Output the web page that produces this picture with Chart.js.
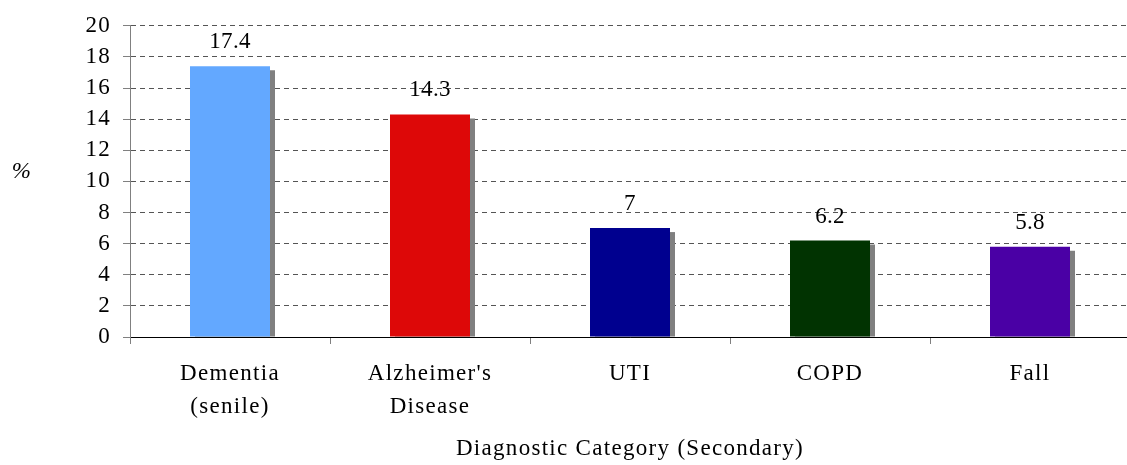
<!DOCTYPE html>
<html>
<head>
<meta charset="utf-8">
<script src="https://cdn.jsdelivr.net/npm/chart.js@4/dist/chart.umd.min.js"></script>
<style>
  html, body { margin: 0; padding: 0; background: #fff; overflow: hidden; }
  #wrap { width: 1135px; height: 465px; position: relative; }
</style>
</head>
<body>
<div id="wrap"><canvas id="c"></canvas></div>
<script>
const categories = [["Dementia", "(senile)"], ["Alzheimer's", "Disease"], ["UTI"], ["COPD"], ["Fall"]];
const values = [17.4, 14.3, 7, 6.2, 5.8];
const valueLabels = ["17.4", "14.3", "7", "6.2", "5.8"];
const yTitle = "%";
const xTitle = "Diagnostic Category (Secondary)";
const barColors = ["#63A8FF", "#DD0808", "#00008F", "#013301", "#4A00A5"];

const FONT = "'Liberation Serif', 'Times New Roman', serif";

const spacingPlugin = {
  id: 'spacing',
  beforeDraw(chart) { chart.ctx.letterSpacing = '1.3px'; }
};

const shadowPlugin = {
  id: 'shadow',
  beforeDatasetsDraw(chart) {
    const ctx = chart.ctx;
    const meta = chart.getDatasetMeta(0);
    ctx.save();
    ctx.fillStyle = '#808080';
    meta.data.forEach(bar => {
      const p = bar.getProps(['x', 'y', 'base', 'width'], true);
      ctx.fillRect(p.x - p.width / 2 + 5, p.y + 4, p.width, p.base - p.y - 4);
    });
    ctx.restore();
  }
};

const labelPlugin = {
  id: 'valueLabels',
  afterDatasetsDraw(chart) {
    const ctx = chart.ctx;
    const meta = chart.getDatasetMeta(0);
    ctx.save();
    ctx.letterSpacing = '0.3px';
    ctx.font = '23px ' + FONT;
    ctx.fillStyle = '#000';
    ctx.textAlign = 'center';
    ctx.textBaseline = 'alphabetic';
    meta.data.forEach((bar, i) => {
      ctx.fillText(valueLabels[i], bar.x, bar.y - 18);
    });
    ctx.restore();
  },
  afterDraw(chart) {
    const ctx = chart.ctx;
    const y = chart.scales.y;
    ctx.save();
    ctx.font = 'italic 23px ' + FONT;
    ctx.fillStyle = '#000';
    ctx.textAlign = 'center';
    ctx.textBaseline = 'alphabetic';
    ctx.fillText(yTitle, 22, (y.top + y.bottom) / 2 - 3);
    ctx.restore();
  }
};

new Chart(document.getElementById('c'), {
  type: 'bar',
  data: {
    labels: categories,
    datasets: [{
      data: values,
      backgroundColor: barColors,
      borderWidth: 0,
      barPercentage: 0.4,
      categoryPercentage: 1.0
    }]
  },
  options: {
    responsive: true,
    maintainAspectRatio: false,
    animation: false,
    layout: { padding: { top: 24, right: 5, bottom: 0, left: 0 } },
    plugins: { legend: { display: false }, tooltip: { enabled: false } },
    scales: {
      x: {
        offset: true,
        grid: {
          offset: true,
          drawOnChartArea: false,
          drawTicks: true,
          tickLength: 7,
          tickColor: '#808080'
        },
        border: { display: true, color: '#000', width: 1 },
        ticks: {
          color: '#000',
          padding: 14,
          maxRotation: 0,
          autoSkip: false,
          font: { family: FONT, size: 23, lineHeight: 1.43 }
        },
        title: {
          display: true,
          text: xTitle,
          color: '#000',
          padding: { top: 0, bottom: 2 },
          font: { family: FONT, size: 23, lineHeight: 1.2 }
        },
        afterFit(scale) { scale.height = 128; }
      },
      y: {
        min: 0,
        max: 20,
        ticks: {
          stepSize: 2,
          color: '#000',
          padding: 12,
          font: { family: FONT, size: 23 }
        },
        grid: {
          color: '#555',
          drawTicks: true,
          tickLength: 7,
          tickColor: '#808080'
        },
        border: { display: true, color: '#808080', width: 1, dash: [5, 4] },
        afterFit(scale) { scale.width = 130; }
      }
    }
  },
  plugins: [spacingPlugin, shadowPlugin, labelPlugin]
});
</script>
</body>
</html>
